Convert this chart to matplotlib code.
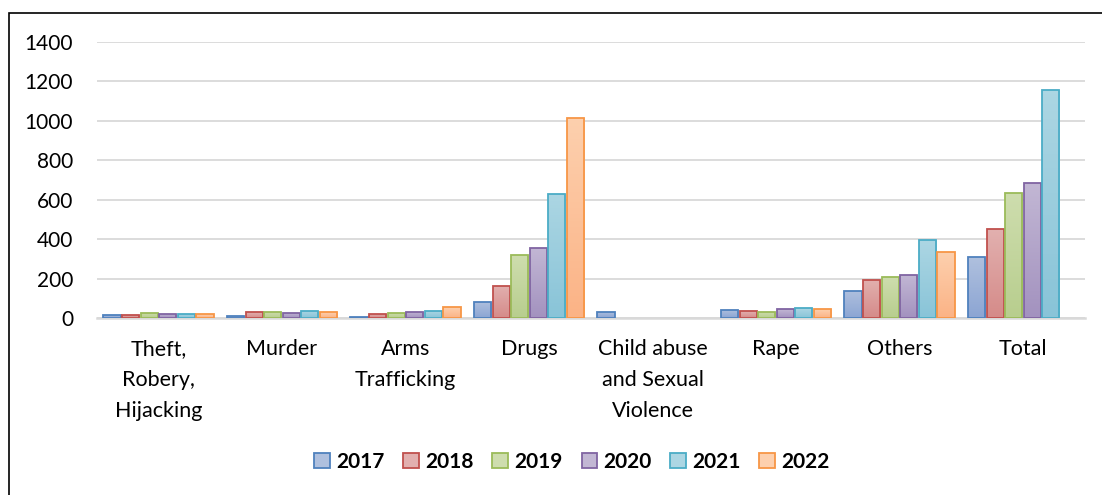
import numpy as np
import matplotlib.pyplot as plt
from matplotlib.colors import LinearSegmentedColormap
from matplotlib.patches import Rectangle, Patch

categories = ["Theft,\nRobery,\nHijacking", "Murder", "Arms\nTrafficking", "Drugs",
              "Child abuse\nand Sexual\nViolence", "Rape", "Others", "Total"]
years = ["2017", "2018", "2019", "2020", "2021", "2022"]

v2017 = [17, 12, 7, 83, 32, 42, 139, 309]
v2018 = [17, 29, 22, 164, 0, 35, 193, 450]
v2019 = [27, 32, 27, 318, 0, 32, 210, 635]
v2020 = [22, 27, 32, 356, 0, 45, 220, 686]
v2021 = [22, 37, 38, 630, 0, 50, 394, 1156]
v2022 = [20, 30, 55, 1016, 0, 44, 336, 0]
series = [v2017, v2018, v2019, v2020, v2021, v2022]

# edge colour, gradient top, gradient bottom
edges = ["#4F81BD", "#C0504D", "#9BBB59", "#8064A2", "#4BACC6", "#F79646"]
tops = ["#AFC0DE", "#E2B0AF", "#CEDDAE", "#C2B7D4", "#ACD6E3", "#FDD0AE"]
bottoms = ["#8CA5D3", "#D58B89", "#B8CE8E", "#A392BF", "#89C4D8", "#FBB386"]

plt.rcParams['font.family'] = ['Lato', 'DejaVu Sans']

fig = plt.figure(figsize=(11.02, 4.95), dpi=100)
ax = fig.add_axes([96.75 / 1102, 1 - 318 / 495, 988 / 1102, 276 / 495])

x = np.arange(len(categories))
step = 0.1506
width = 0.138
grad = np.linspace(0, 1, 64).reshape(-1, 1)

for i, vals in enumerate(series):
    pos = x + (i - 2.5) * step
    cmap = LinearSegmentedColormap.from_list("g%d" % i, [bottoms[i], tops[i]])
    bars = ax.bar(pos, vals, width, facecolor="none", edgecolor=edges[i],
                  linewidth=1.3, zorder=3)
    for b, v in zip(bars, vals):
        if v <= 0:
            b.set_visible(False)
            continue
        im = ax.imshow(grad, cmap=cmap, origin="lower", aspect="auto",
                       extent=(b.get_x(), b.get_x() + b.get_width(), 0, v),
                       zorder=2)
        im.set_clip_path(b)

ax.set_xlim(-0.5, len(categories) - 0.5)
ax.set_ylim(0, 1400)
ax.set_yticks(range(0, 1401, 200))
ax.set_xticks(x)
ax.set_xticklabels(categories, fontsize=15.5, linespacing=1.68)
ax.tick_params(axis="x", length=0, pad=15)
ax.tick_params(axis="y", length=0, pad=17, labelsize=15)
ax.grid(axis="y", color="#D9D9D9", linewidth=1.3, zorder=0)
ax.set_axisbelow(True)
for s in ["top", "right", "left"]:
    ax.spines[s].set_visible(False)
ax.spines["bottom"].set_color("#D9D9D9")
ax.spines["bottom"].set_linewidth(1.8)
ax.spines["bottom"].set_zorder(1)

handles = [Patch(facecolor=tops[i], edgecolor=edges[i], linewidth=1.3) for i in range(6)]
fig.legend(handles, years, loc="center", bbox_to_anchor=(572 / 1102, 1 - 462 / 495),
           ncol=6, frameon=False, prop={"weight": "bold", "size": 15},
           handlelength=0.75, handleheight=0.75, handletextpad=0.3, columnspacing=0.9)

fig.patches.append(Rectangle((9 / 1102, -0.1), 1.2, (1 - 13 / 495) + 0.1,
                             transform=fig.transFigure, fill=False,
                             edgecolor="black", linewidth=1.2))

fig.savefig("out.png", dpi=100)
